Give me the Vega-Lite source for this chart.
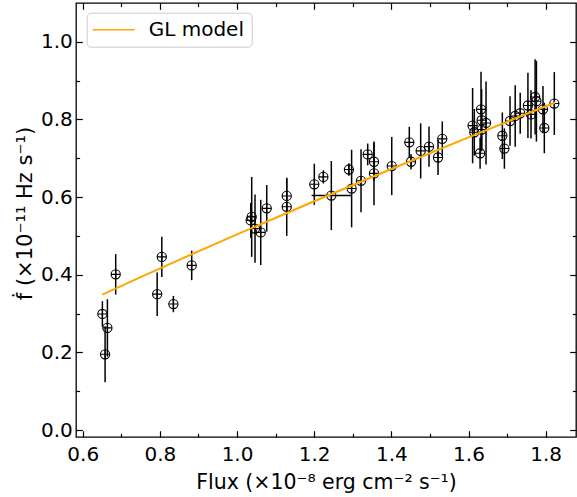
{
  "$schema": "https://vega.github.io/schema/vega-lite/v6.json",
  "width": 500,
  "height": 434,
  "autosize": {"type": "none"},
  "padding": {"left": 76, "top": 3, "right": 1, "bottom": 60},
  "background": "white",
  "config": {
    "view": {"stroke": "black", "strokeWidth": 1.3},
    "font": "DejaVu Sans"
  },
  "datasets": {
    "pts": [
      {"x": 0.651, "y": 0.299, "yerr": 0.033},
      {"x": 0.664, "y": 0.263, "yerr": 0.074},
      {"x": 0.658, "y": 0.195, "yerr": 0.072},
      {"x": 0.6855, "y": 0.401, "yerr": 0.052},
      {"x": 0.793, "y": 0.350, "yerr": 0.056},
      {"x": 0.805, "y": 0.446, "yerr": 0.052},
      {"x": 0.835, "y": 0.3245, "yerr": 0.021},
      {"x": 0.8825, "y": 0.424, "yerr": 0.038},
      {"x": 1.038, "y": 0.549, "yerr": 0.103},
      {"x": 1.0355, "y": 0.540, "yerr": 0.045},
      {"x": 1.0466, "y": 0.519, "yerr": 0.088},
      {"x": 1.0614, "y": 0.509, "yerr": 0.084},
      {"x": 1.077, "y": 0.571, "yerr": 0.060},
      {"x": 1.1288, "y": 0.603, "yerr": 0.045},
      {"x": 1.1288, "y": 0.575, "yerr": 0.075},
      {"x": 1.2003, "y": 0.633, "yerr": 0.053},
      {"x": 1.2237, "y": 0.652, "yerr": 0.017},
      {"x": 1.2444, "y": 0.604, "yerr": 0.089},
      {"x": 1.290, "y": 0.671, "yerr": 0.016},
      {"x": 1.297, "y": 0.622, "yerr": 0.100},
      {"x": 1.3214, "y": 0.642, "yerr": 0.081},
      {"x": 1.3387, "y": 0.710, "yerr": 0.028},
      {"x": 1.355, "y": 0.691, "yerr": 0.049},
      {"x": 1.355, "y": 0.661, "yerr": 0.082},
      {"x": 1.401, "y": 0.680, "yerr": 0.075},
      {"x": 1.4465, "y": 0.741, "yerr": 0.040},
      {"x": 1.451, "y": 0.691, "yerr": 0.020},
      {"x": 1.476, "y": 0.719, "yerr": 0.071},
      {"x": 1.4976, "y": 0.730, "yerr": 0.052},
      {"x": 1.521, "y": 0.702, "yerr": 0.045},
      {"x": 1.532, "y": 0.750, "yerr": 0.045},
      {"x": 1.6106, "y": 0.784, "yerr": 0.097},
      {"x": 1.615, "y": 0.767, "yerr": 0.060},
      {"x": 1.630, "y": 0.713, "yerr": 0.040},
      {"x": 1.6324, "y": 0.826, "yerr": 0.097},
      {"x": 1.634, "y": 0.798, "yerr": 0.080},
      {"x": 1.634, "y": 0.774, "yerr": 0.050},
      {"x": 1.6454, "y": 0.791, "yerr": 0.107},
      {"x": 1.6877, "y": 0.758, "yerr": 0.060},
      {"x": 1.693, "y": 0.725, "yerr": 0.052},
      {"x": 1.7076, "y": 0.796, "yerr": 0.064},
      {"x": 1.721, "y": 0.809, "yerr": 0.079},
      {"x": 1.734, "y": 0.816, "yerr": 0.053},
      {"x": 1.754, "y": 0.836, "yerr": 0.084},
      {"x": 1.762, "y": 0.813, "yerr": 0.062},
      {"x": 1.7726, "y": 0.858, "yerr": 0.097},
      {"x": 1.776, "y": 0.847, "yerr": 0.104},
      {"x": 1.793, "y": 0.826, "yerr": 0.060},
      {"x": 1.7965, "y": 0.778, "yerr": 0.065},
      {"x": 1.8224, "y": 0.841, "yerr": 0.081}
    ],
    "xe": [
      {"x": 1.2444, "y": 0.604, "xerr": 0.051}
    ],
    "model": [
      {"x": 0.651, "y": 0.3489, "m": "GL model"},
      {"x": 0.75, "y": 0.3939, "m": "GL model"},
      {"x": 0.85, "y": 0.4385, "m": "GL model"},
      {"x": 1.0, "y": 0.504, "m": "GL model"},
      {"x": 1.2, "y": 0.5892, "m": "GL model"},
      {"x": 1.4, "y": 0.6725, "m": "GL model"},
      {"x": 1.6, "y": 0.754, "m": "GL model"},
      {"x": 1.824, "y": 0.8437, "m": "GL model"}
    ]
  },
  "layer": [
    {
      "data": {"name": "pts"},
      "mark": {"type": "errorbar", "color": "black", "thickness": 1.5},
      "encoding": {
        "x": {"field": "x", "type": "quantitative", "axis": null,
              "scale": {"domain": [0.5826, 1.8786], "nice": false, "zero": false}},
        "y": {"field": "y", "type": "quantitative", "axis": null,
              "scale": {"domain": [-0.018, 1.1], "nice": false, "zero": false}},
        "yError": {"field": "yerr"}
      }
    },
    {
      "data": {"name": "xe"},
      "mark": {"type": "errorbar", "color": "black", "thickness": 1.5},
      "encoding": {
        "x": {"field": "x", "type": "quantitative", "axis": null},
        "y": {"field": "y", "type": "quantitative", "axis": null},
        "xError": {"field": "xerr"}
      }
    },
    {
      "data": {"name": "pts"},
      "mark": {"type": "point", "shape": "M-1,0A1,1,0,1,1,1,0A1,1,0,1,1,-1,0ZM-1,0L1,0M0,-1L0,1", "size": 85, "stroke": "black", "strokeWidth": 1.1, "filled": false, "opacity": 1},
      "encoding": {
        "x": {"field": "x", "type": "quantitative",
              "axis": {"orient": "bottom", "values": [0.6,0.7,0.8,0.9,1.0,1.1,1.2,1.3,1.4,1.5,1.6,1.7,1.8],
                       "tickSize": {"condition": {"test": "round(datum.value*10)%2==0", "value": -6.3}, "value": -3.6},
                       "labelExpr": "round(datum.value*10)%2==0 ? format(datum.value,'.1f') : ''",
                       "domain": false, "grid": false, "tickColor": "black", "tickWidth": 1.2,
                       "labelFont": "DejaVu Sans", "labelFontSize": 20, "labelColor": "black", "labelPadding": 14,
                       "labelFlush": false, "labelOverlap": false,
                       "title": "Flux (×10⁻⁸ erg cm⁻² s⁻¹)", "titleFont": "DejaVu Sans", "titleFontSize": 20.5,
                       "titleFontWeight": "normal", "titleColor": "black", "titlePadding": 5}},
        "y": {"field": "y", "type": "quantitative",
              "axis": {"orient": "left", "values": [0,0.1,0.2,0.3,0.4,0.5,0.6,0.7,0.8,0.9,1.0],
                       "tickSize": {"condition": {"test": "round(datum.value*10)%2==0", "value": -6.3}, "value": -3.6},
                       "labelExpr": "round(datum.value*10)%2==0 ? format(datum.value,'.1f') : ''",
                       "domain": false, "grid": false, "tickColor": "black", "tickWidth": 1.2,
                       "labelFont": "DejaVu Sans", "labelFontSize": 20, "labelColor": "black", "labelPadding": 10,
                       "labelFlush": false, "labelOverlap": false,
                       "title": "ḟ (×10⁻¹¹ Hz s⁻¹)", "titleFont": "DejaVu Sans", "titleFontSize": 21,
                       "titleFontWeight": "normal", "titleColor": "black", "titlePadding": 5, "titleY": 210}}
      }
    },
    {
      "data": {"name": "model"},
      "mark": {"type": "line", "strokeWidth": 2},
      "encoding": {
        "x": {"field": "x", "type": "quantitative",
              "axis": {"orient": "top", "values": [0.6,0.7,0.8,0.9,1.0,1.1,1.2,1.3,1.4,1.5,1.6,1.7,1.8],
                       "tickSize": {"condition": {"test": "round(datum.value*10)%2==0", "value": -6.3}, "value": -3.6},
                       "labels": false, "domain": false, "grid": false, "tickColor": "black", "tickWidth": 1.2, "title": null}},
        "y": {"field": "y", "type": "quantitative",
              "axis": {"orient": "right", "values": [0,0.1,0.2,0.3,0.4,0.5,0.6,0.7,0.8,0.9,1.0],
                       "tickSize": {"condition": {"test": "round(datum.value*10)%2==0", "value": -6.3}, "value": -3.6},
                       "labels": false, "domain": false, "grid": false, "tickColor": "black", "tickWidth": 1.2, "title": null}},
        "color": {"field": "m", "type": "nominal",
                  "scale": {"range": ["orange"]},
                  "legend": {"orient": "none", "legendX": 10.7, "legendY": 9.7, "title": null,
                             "symbolType": "M-2.5,0L2.5,0", "symbolSize": 282, "symbolStrokeWidth": 1.5,
                             "labelFont": "DejaVu Sans", "labelFontSize": 20, "labelColor": "black",
                             "padding": 7, "strokeColor": "#cccccc", "cornerRadius": 4, "fillColor": "white",
                             "labelOffset": 25, "symbolOffset": 10}}
      }
    }
  ]
}
